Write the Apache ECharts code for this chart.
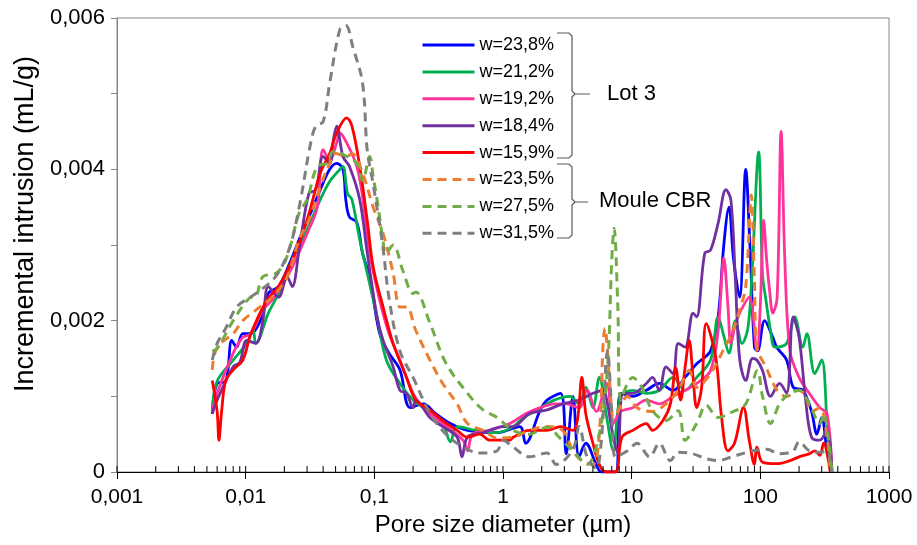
<!DOCTYPE html>
<html>
<head>
<meta charset="utf-8">
<script src="https://cdn.jsdelivr.net/npm/echarts@6/dist/echarts.min.js"></script>
<style>html,body{margin:0;padding:0;background:#fff}#c{width:917px;height:545px}</style>
</head>
<body>
<div id="c"></div>
<script>
// ---- data: [pore size (µm), incremental intrusion (mL/g)] ----
const seriesNames = ['w=23,8%','w=21,2%','w=19,2%','w=18,4%','w=15,9%','w=23,5%','w=27,5%','w=31,5%'];
const xTickValues = [0.001,0.01,0.1,1,10,100,1000];
const yTickValues = [0,0.002,0.004,0.006];

const w238 = [[0.0055,0.00077],[0.006,0.00117],[0.007,0.0012],[0.0078,0.00174],[0.0085,0.00165],[0.0095,0.00183],[0.011,0.00183],[0.013,0.002],[0.015,0.00236],[0.018,0.00245],[0.022,0.00276],[0.026,0.00307],[0.031,0.00337],[0.038,0.00373],[0.045,0.004],[0.051,0.00408],[0.057,0.004],[0.06,0.0036],[0.064,0.00337],[0.073,0.0033],[0.081,0.00289],[0.092,0.00258],[0.11,0.00183],[0.13,0.00157],[0.158,0.00135],[0.19,0.00085],[0.24,0.0009],[0.3,0.00077],[0.39,0.00064],[0.53,0.00055],[0.9,0.00052],[1.35,0.0006],[1.5,0.00038],[1.95,0.00082],[2.2,0.00095],[2.8,0.00104],[3.1,0.00024],[3.5,0.001],[3.9,0.0002],[4.4,0.00038],[5.3,0.0001],[5.8,0],[7.5,0],[8.2,0.00104],[10.2,0.001],[13,0.00108],[16.4,0.00117],[21,0.00108],[26,0.00125],[32,0.00143],[41,0.0016],[47,0.00205],[52,0.003],[57,0.0035],[62,0.0028],[69,0.00231],[77,0.004],[83,0.003],[90,0.00165],[95,0.0016],[108,0.002],[125,0.00178],[134,0.00165],[160,0.00148],[180,0.00112],[214,0.00108],[250,0.0008],[275,0.0005],[300,0.00072],[330,0.00028],[360,0]];

const w212 = [[0.0055,0.0008],[0.006,0.0012],[0.008,0.00148],[0.0102,0.0017],[0.0114,0.00188],[0.012,0.0017],[0.015,0.0021],[0.018,0.00236],[0.023,0.0028],[0.03,0.0032],[0.038,0.0036],[0.045,0.00384],[0.054,0.004],[0.057,0.00404],[0.062,0.00368],[0.067,0.0036],[0.077,0.00307],[0.088,0.00263],[0.105,0.00205],[0.124,0.00148],[0.158,0.00117],[0.2,0.00095],[0.24,0.00085],[0.34,0.00064],[0.39,0.0004],[0.44,0.0006],[0.62,0.00055],[0.9,0.00052],[1.2,0.0006],[1.45,0.00072],[1.85,0.00082],[2.5,0.00095],[3.3,0.001],[3.9,0.0009],[4.4,0.00112],[5.0,0.00085],[5.6,0.00125],[6.4,0.00072],[7.2,0.00028],[8.2,0.001],[10.2,0.00108],[13,0.00104],[16.4,0.00108],[21,0.00125],[26,0.00108],[32,0.00125],[41,0.00148],[47,0.00205],[52,0.0018],[57,0.00157],[64,0.002],[72,0.0017],[80,0.0019],[86,0.0026],[97,0.00423],[104,0.0026],[110,0.0023],[120,0.00187],[130,0.00165],[160,0.0017],[185,0.00205],[214,0.00165],[230,0.00183],[265,0.0013],[300,0.00148],[330,0.00064],[350,0]];

const w192 = [[0.0055,0.0008],[0.006,0.00104],[0.008,0.00157],[0.0095,0.00178],[0.011,0.00183],[0.0136,0.00214],[0.016,0.00227],[0.021,0.00258],[0.025,0.00284],[0.03,0.00315],[0.036,0.0035],[0.04,0.00426],[0.045,0.00412],[0.051,0.00435],[0.054,0.00448],[0.061,0.00435],[0.073,0.00404],[0.081,0.00364],[0.092,0.0029],[0.11,0.00227],[0.13,0.00183],[0.158,0.00148],[0.2,0.00104],[0.24,0.00085],[0.34,0.00064],[0.49,0.00042],[0.53,0.00028],[0.58,0.0005],[0.79,0.00055],[1.13,0.00064],[1.5,0.00077],[1.95,0.00085],[2.5,0.0009],[3.1,0.0009],[3.9,0.00085],[4.5,0.00108],[5.3,0.0008],[6.4,0.00117],[7.2,0.00064],[8.2,0.0008],[10.2,0.00085],[13,0.00095],[16.4,0.0009],[21,0.001],[26,0.00108],[32,0.00117],[41,0.00134],[47,0.00187],[52,0.00283],[56,0.0022],[59,0.0017],[64,0.00195],[69,0.0021],[82,0.00231],[94,0.0016],[100,0.0022],[106,0.00333],[112,0.0028],[118,0.0024],[125,0.0021],[135,0.0023],[145,0.0045],[155,0.0028],[170,0.0016],[200,0.00125],[240,0.00104],[290,0.00085],[330,0.00077],[360,0]];

const w184 = [[0.0055,0.00077],[0.006,0.00095],[0.008,0.00139],[0.009,0.00145],[0.0102,0.00174],[0.012,0.0017],[0.0136,0.002],[0.015,0.00245],[0.018,0.00231],[0.021,0.00258],[0.023,0.00245],[0.026,0.00293],[0.031,0.00368],[0.035,0.00373],[0.04,0.00417],[0.045,0.00408],[0.048,0.00439],[0.051,0.00457],[0.057,0.00417],[0.064,0.00404],[0.077,0.0036],[0.088,0.0029],[0.105,0.00205],[0.117,0.00174],[0.14,0.00139],[0.158,0.00108],[0.178,0.00104],[0.2,0.00085],[0.21,0.00095],[0.27,0.00072],[0.34,0.0006],[0.44,0.00046],[0.48,0.0002],[0.53,0.00046],[0.7,0.00052],[1.0,0.0006],[1.2,0.0006],[1.6,0.00077],[2.2,0.00082],[2.9,0.0009],[3.9,0.00095],[5.0,0.00104],[6.0,0.00108],[6.4,0.00095],[7.2,0.00046],[7.8,0.00025],[8.6,0.00104],[10.2,0.00104],[13,0.00117],[14.5,0.00125],[16.4,0.00108],[18.5,0.00139],[21,0.0013],[23,0.0017],[26,0.00165],[30,0.0021],[32,0.00205],[37,0.00289],[41,0.00293],[47,0.00329],[54,0.00373],[59,0.0036],[64,0.00254],[69,0.0015],[77,0.00121],[87,0.0015],[94,0.00148],[104,0.00134],[120,0.001],[141,0.00117],[160,0.00104],[180,0.00205],[200,0.00178],[225,0.00095],[250,0.00046],[290,0.00042],[330,0.00055],[360,0]];

const w159 = [[0.0055,0.00121],[0.006,0.0008],[0.0062,0.00042],[0.0065,0.0008],[0.007,0.00121],[0.008,0.00135],[0.0095,0.00148],[0.011,0.00183],[0.0146,0.00227],[0.018,0.00245],[0.023,0.0028],[0.03,0.00333],[0.038,0.00395],[0.045,0.00421],[0.051,0.00448],[0.061,0.00468],[0.067,0.00457],[0.077,0.00404],[0.088,0.00333],[0.098,0.00271],[0.117,0.00218],[0.14,0.0017],[0.178,0.00125],[0.21,0.00095],[0.27,0.00082],[0.34,0.00068],[0.44,0.00055],[0.53,0.00046],[0.66,0.0005],[0.79,0.00042],[1.13,0.00042],[1.2,0.00046],[1.6,0.00055],[2.2,0.00055],[2.8,0.0006],[3.5,0.00055],[3.8,0.0007],[4.1,0.00125],[4.4,0.00077],[5.0,0.00038],[5.6,0.0001],[6.3,0],[7.5,0],[8.4,0.00046],[10.2,0.00055],[13,0.00064],[14.5,0.00055],[17.5,0.00068],[20,0.0009],[22,0.00138],[24,0.00095],[26,0.00138],[28,0.00174],[30,0.00125],[32,0.00085],[35,0.00112],[38,0.00196],[45,0.00152],[50,0.00072],[56,0.00028],[63,0.00038],[74,0.00085],[82,0.00042],[90,0.0001],[94,0.00033],[104,0.00013],[135,0.00011],[170,0.00015],[200,0.0002],[240,0.00024],[265,0.00028],[290,0.00022],[310,0.00038],[350,0]];

const w235 = [[0.0055,0.00135],[0.006,0.00165],[0.008,0.00183],[0.0095,0.002],[0.012,0.00214],[0.016,0.00231],[0.021,0.00258],[0.026,0.00307],[0.031,0.00333],[0.038,0.00377],[0.045,0.00408],[0.05,0.00421],[0.061,0.00417],[0.067,0.00421],[0.081,0.00395],[0.098,0.0035],[0.117,0.00315],[0.14,0.00263],[0.158,0.00218],[0.178,0.00218],[0.21,0.00187],[0.27,0.00148],[0.34,0.00117],[0.44,0.0009],[0.53,0.00064],[0.7,0.00055],[0.9,0.00045],[1.2,0.00046],[1.6,0.00055],[2.2,0.0006],[2.9,0.00055],[3.5,0.00028],[4.1,0.00015],[5.0,0.0001],[5.6,0.0005],[6.0,0.0017],[6.2,0.0019],[6.6,0.0014],[7.0,0.0008],[7.2,0.00072],[9.3,0.001],[11,0.00085],[14.5,0.0008],[18.5,0.0009],[23,0.00108],[28,0.00134],[32,0.00112],[41,0.0013],[53,0.00165],[60,0.00183],[69,0.00214],[77,0.00245],[85,0.00366],[90,0.0025],[94,0.00165],[111,0.00138],[135,0.00108],[160,0.001],[200,0.00108],[225,0.001],[250,0.0008],[290,0.00085],[330,0.00046],[350,0]];

const w275 = [[0.0055,0.0016],[0.006,0.00163],[0.008,0.002],[0.0107,0.0023],[0.012,0.00232],[0.0136,0.00258],[0.0174,0.00263],[0.021,0.00285],[0.026,0.00342],[0.03,0.0036],[0.036,0.00404],[0.043,0.00408],[0.048,0.00424],[0.061,0.00417],[0.073,0.00408],[0.081,0.00385],[0.092,0.00417],[0.098,0.0039],[0.105,0.0036],[0.116,0.0031],[0.123,0.00289],[0.14,0.003],[0.166,0.00267],[0.2,0.00236],[0.21,0.00238],[0.27,0.00197],[0.36,0.00144],[0.53,0.00104],[0.7,0.00082],[0.9,0.00072],[1.2,0.00055],[1.6,0.0005],[2.2,0.00059],[2.8,0.00044],[3.5,0.00028],[4.5,0.0001],[5.6,0.0005],[6.5,0.0014],[7.0,0.0028],[7.3,0.00322],[7.8,0.0022],[8.2,0.00095],[10.2,0.00125],[12,0.00112],[14.5,0.00081],[18.5,0.00068],[23,0.00081],[26,0.00042],[32,0.00064],[38,0.00088],[47,0.00072],[60,0.00079],[77,0.0009],[95,0.00134],[104,0.001],[120,0.00064],[141,0.0009],[170,0.00104],[200,0.00108],[240,0.0009],[290,0.00064],[310,0.00077],[360,0]];

const w315 = [[0.0055,0.00148],[0.006,0.0017],[0.007,0.0019],[0.0085,0.00218],[0.0106,0.0023],[0.013,0.0024],[0.0174,0.0026],[0.022,0.00297],[0.0264,0.00355],[0.0316,0.0043],[0.035,0.00457],[0.04,0.00463],[0.045,0.00514],[0.054,0.00585],[0.06,0.0059],[0.068,0.00562],[0.081,0.00514],[0.088,0.00426],[0.098,0.0038],[0.116,0.003],[0.13,0.0023],[0.158,0.0016],[0.2,0.00125],[0.27,0.00078],[0.36,0.0005],[0.49,0.00033],[0.66,0.00025],[0.9,0.00028],[1.0,0.00042],[1.2,0.00033],[1.6,0.0002],[2.2,0.00025],[2.6,0.0001],[3.5,0.0003],[3.9,0.0006],[4.5,0.0002],[5.3,0.00005],[5.8,0.0004],[6.5,0.0016],[7.0,0.0008],[7.5,0.0002],[9.3,0.00028],[11,0.00038],[13.8,0.0002],[16.4,0.00038],[20,0.00015],[23,0.00026],[30,0.00024],[37,0.00018],[47,0.00015],[60,0.0002],[87,0.00028],[112,0.0003],[141,0.00024],[180,0.00028],[200,0.0004],[240,0.00028],[290,0.00026],[330,0.00028],[360,0]];

const seriesData = [w238, w212, w192, w184, w159, w235, w275, w315];
const seriesColors = ['#0000FF','#00B050','#FF3399','#7030A0','#FF0000','#ED7D31','#70AD47','#7F7F7F'];
const seriesDashed = [false,false,false,false,false,true,true,true];

// minor tick values of the log axis (2..9 x 10^n)
const minorTickValues = [];
for (let e = -3; e < 3; e++) for (let k = 2; k <= 9; k++) minorTickValues.push(+(k * Math.pow(10, e)).toPrecision(3));

const FONT = '"Liberation Sans", Arial, sans-serif';
const chart = echarts.init(document.getElementById('c'), null, {renderer: 'canvas'});

const lineSeries = seriesNames.map((name, i) => ({
  name, type: 'line', data: seriesData[i], showSymbol: false, symbol: 'none',
  smooth: 0.35, z: 3 + i,
  lineStyle: {color: seriesColors[i], width: seriesDashed[i] ? 3 : 2.8, type: seriesDashed[i] ? [9, 6] : 'solid'},
  itemStyle: {color: seriesColors[i]}
}));

const tickSeries = {
  type: 'custom', silent: true, z: 20, clip: false,
  data: minorTickValues.concat(xTickValues).map(v => [v, 0]),
  encode: {x: 0, y: 1},
  renderItem: (params, api) => {
    const p = api.coord([api.value(0), 0]);
    return {type: 'line', shape: {x1: p[0], y1: p[1], x2: p[0], y2: p[1] - 6}, style: {stroke: '#000', lineWidth: 1}};
  }
};

function fmtComma(v) { return String(v).replace('.', ','); }

const braceStyle = {stroke: '#595959', lineWidth: 1.2, fill: null};
function brace(x0, xv, top, mid, bot, tip) {
  return [
    {type: 'polyline', shape: {points: [[x0, top], [xv - 3, top], [xv, top + 3], [xv, mid - 3], [xv + 3, mid], [tip, mid]]}, style: braceStyle},
    {type: 'polyline', shape: {points: [[xv + 3, mid], [xv, mid + 3], [xv, bot - 3], [xv - 3, bot], [x0, bot]]}, style: braceStyle}
  ];
}

chart.setOption({
  animation: false,
  backgroundColor: '#fff',
  grid: {left: 117, right: 28, top: 18, bottom: 73, show: true, borderColor: '#868686', borderWidth: 1},
  legend: {
    data: seriesNames, orient: 'vertical', left: 421, top: 36, padding: 0,
    itemWidth: 52, itemHeight: 14, itemGap: 8.9,
    itemStyle: {opacity: 0},
    lineStyle: {width: 3},
    textStyle: {fontFamily: FONT, fontSize: 18, color: '#000', lineHeight: 18},
    selectedMode: false
  },
  xAxis: {
    type: 'log', logBase: 10, min: 0.001, max: 1000,
    name: 'Pore size diameter (µm)', nameLocation: 'middle', nameGap: 41,
    nameTextStyle: {fontFamily: FONT, fontSize: 24, color: '#000'},
    axisLine: {show: true, lineStyle: {color: '#000', width: 1}},
    axisTick: {show: true, inside: false, length: 7, lineStyle: {color: '#000'}},
    splitLine: {show: false},
    axisLabel: {fontFamily: FONT, fontSize: 21, color: '#000', margin: 15,
      formatter: v => xTickValues.some(t => Math.abs(t - v) / t < 1e-6) ? fmtComma(v) : ''}
  },
  yAxis: {
    type: 'value', min: 0, max: 0.006, interval: 0.001,
    name: 'Incremental intrusion (mL/g)', nameLocation: 'middle', nameGap: 78,
    nameTextStyle: {fontFamily: FONT, fontSize: 27, color: '#000', padding: [0, 0, 0, 42]},
    axisLine: {show: true, lineStyle: {color: '#868686', width: 1}},
    axisTick: {show: true, inside: false, length: 6, lineStyle: {color: '#868686'}},
    splitLine: {show: false},
    axisLabel: {fontFamily: FONT, fontSize: 22, color: '#000', margin: 12,
      formatter: v => {
        const hit = yTickValues.find(t => Math.abs(t - v) < 1e-9);
        return hit === undefined ? '' : (hit === 0 ? '0' : hit.toFixed(3).replace('.', ','));
      }}
  },
  graphic: [].concat(
    brace(557, 572, 33, 94, 158, 590),
    brace(557, 572, 164, 202, 238, 588),
    [
      {type: 'text', left: 607, top: 83, style: {text: 'Lot 3', font: '22px ' + FONT, fill: '#000'}},
      {type: 'text', left: 599, top: 190, style: {text: 'Moule CBR', font: '22px ' + FONT, fill: '#000'}}
    ]
  ),
  series: lineSeries.concat([tickSeries])
});
</script>
</body>
</html>
